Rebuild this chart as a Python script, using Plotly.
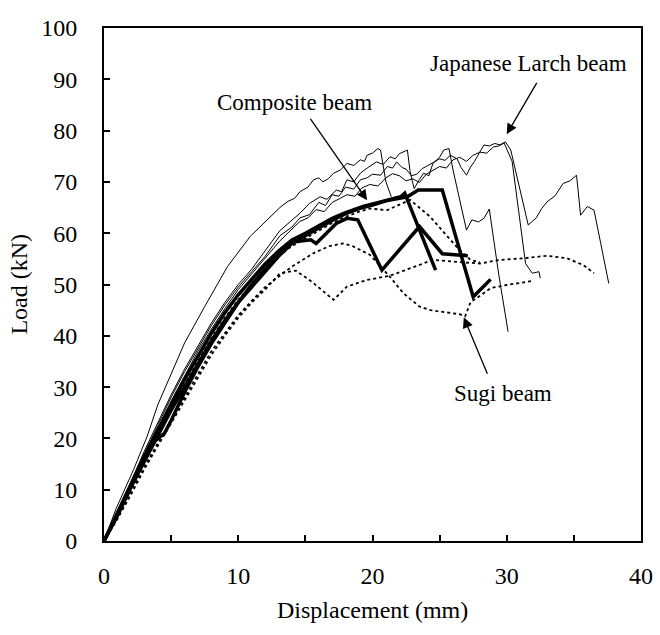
import plotly.graph_objects as go

# ---------------- data (Displacement mm, Load kN) ----------------
# Japanese Larch beams (thin solid)
ja_x = [0, 0.9, 2.2, 3.2, 4.0, 5.0, 6.0, 7.5, 9.2, 10.9, 12.4, 13.1, 13.7, 14.2, 14.6, 15.2, 15.6, 16.0, 16.3, 16.7, 17.1, 17.6, 18.1, 18.6, 19.1, 19.4, 19.6, 20.0, 20.4, 20.6, 21.0, 21.4]
ja_y = [0, 6.3, 13.9, 20.3, 26.5, 32.5, 38.6, 45.7, 53.5, 59.4, 63.3, 65.0, 66.2, 66.8, 68.1, 69.0, 70.4, 70.8, 70.0, 70.6, 71.7, 72.3, 73.6, 73.2, 74.3, 74.0, 75.2, 75.6, 76.5, 76.2, 70.0, 67.1]

jb_x = [0, 1, 2, 3, 4, 5, 6, 7, 8, 9, 10, 11, 12, 13.1, 14.6, 15.3, 16.1, 16.6, 17.3, 17.7, 18.1, 18.6, 19.1, 19.6, 20.3, 20.8, 21.3, 21.7, 22.0, 22.6, 22.8, 23.1, 23.5, 23.8, 24.2, 24.5, 25.0, 25.3, 25.7, 26.0, 27.0, 27.4, 27.9, 28.3, 28.7, 29.4, 30.1]
jb_y = [0, 5.5, 11.5, 17.5, 23.0, 28.5, 33.5, 38.0, 42.5, 46.5, 50.0, 53.0, 56.5, 60.5, 63.9, 65.8, 67.1, 66.6, 68.4, 68.1, 70.4, 70.0, 71.7, 72.7, 73.9, 73.4, 74.9, 74.5, 75.5, 76.2, 72.0, 68.7, 70.5, 71.7, 71.2, 73.6, 74.8, 76.2, 76.5, 72.3, 60.6, 62.6, 62.2, 62.9, 64.7, 52.0, 40.8]

jc_x = [0, 1, 2, 3, 4, 5, 6, 7, 8, 9, 10, 11, 12, 13.1, 14.0, 14.6, 15.3, 16.0, 16.5, 17.0, 17.5, 18.0, 18.6, 19.1, 19.6, 20.0, 20.6, 21.1, 21.5, 21.8, 22.2, 22.5, 22.9, 23.3, 23.7, 24.0, 24.5, 25.0, 25.4, 25.8, 26.3, 26.6, 27.0, 27.3, 27.6, 28.0, 28.3, 28.7, 29.1, 29.5, 29.9, 30.3, 31.6, 32.2, 32.6, 33.0, 33.6, 34.2, 34.7, 35.2, 35.5, 36.0, 36.5, 37.0, 37.5, 37.6]
jc_y = [0, 5.3, 11.0, 17.0, 22.5, 28.0, 33.0, 37.5, 42.0, 46.0, 49.5, 52.5, 55.5, 59.5, 61.2, 63.0, 63.6, 66.0, 65.4, 67.5, 67.2, 69.0, 68.6, 70.4, 70.8, 71.5, 71.3, 73.0, 72.7, 73.9, 72.8, 72.5, 71.2, 71.5, 72.6, 73.0, 73.8, 74.5, 74.2, 75.2, 74.5, 72.8, 71.3, 72.9, 74.0, 75.8, 77.2, 77.0, 77.5, 77.2, 77.8, 76.2, 61.6, 63.0, 64.8, 66.1, 67.3, 69.7, 70.2, 71.3, 63.5, 65.2, 64.5, 58.0, 51.5, 50.2]

jd_x = [0, 1, 2, 3, 4, 5, 6, 7, 8, 9, 10, 11, 12, 13.1, 14.0, 14.6, 15.2, 15.8, 16.4, 17.0, 17.6, 18.1, 18.7, 19.2, 19.8, 20.4, 21.0, 21.5, 22.0, 22.5, 23.0, 23.5, 24.0, 24.6, 25.0, 25.5, 26.0, 26.5, 27.0, 27.5, 28.0, 28.5, 29.0, 29.4, 29.8, 30.4, 31.4, 31.9, 32.4, 32.5]
jd_y = [0, 5.2, 10.8, 16.5, 22.0, 27.3, 32.3, 37.0, 41.3, 45.3, 49.0, 52.0, 55.0, 58.5, 60.8, 62.3, 63.0, 64.6, 64.2, 66.0, 66.8, 67.5, 67.2, 68.8, 69.5, 69.2, 70.8, 71.6, 71.2, 70.2, 70.6, 69.9, 71.5, 72.4, 73.0, 72.7, 74.3, 74.8, 74.0, 75.2, 75.8, 75.6, 76.8, 77.0, 77.6, 74.0, 54.1, 52.2, 52.5, 51.2]

# Composite beams (thick solid)
c1_x = [0, 1, 2, 3, 4, 5, 6, 7, 8, 9, 10, 11, 12, 13, 14, 15, 16, 17, 18, 19.3, 20.6, 22.1, 22.4, 24.7]
c1_y = [0, 5.5, 11.0, 16.5, 21.5, 26.5, 31.5, 36.0, 40.5, 44.5, 48.0, 51.0, 54.0, 56.5, 58.7, 60.0, 61.5, 62.9, 64.0, 65.2, 66.1, 67.1, 67.8, 52.8]

c2_x = [0, 1, 2, 3, 3.8, 4.5, 5, 6, 7, 8, 9, 10, 11, 12, 13, 14, 15, 16, 17, 18, 19, 20, 21, 22.6, 23.4, 25.2, 27.5, 28.8]
c2_y = [0, 5.0, 10.5, 16.0, 19.5, 21.0, 23.5, 29.0, 34.0, 38.5, 42.5, 46.5, 50.0, 53.0, 56.0, 58.3, 59.5, 61.0, 62.5, 63.8, 64.8, 65.5, 66.3, 67.1, 68.4, 68.4, 47.6, 51.0]

c3_x = [0, 1, 2, 3, 4, 5, 6, 7, 8, 9, 10, 11, 12, 13, 14.1, 15.4, 15.8, 16.8, 17.3, 18.1, 18.9, 20.7, 23.5, 25.2, 27.1]
c3_y = [0, 5.0, 10.5, 15.5, 20.5, 25.5, 30.0, 34.5, 39.0, 43.0, 46.5, 49.5, 52.5, 55.5, 58.3, 58.7, 58.0, 60.6, 61.9, 62.9, 62.6, 52.8, 61.3, 56.0, 55.6]

# Sugi beams (dotted)
s1_x = [0, 1, 2, 3, 4, 5, 6, 7, 8, 9, 10, 11, 12, 13, 14, 15.6, 16.8, 17.8, 18.5, 19.8, 21.3, 22.3, 23.5, 24.3, 26.5, 26.9, 27.3, 28.8, 30.0, 31.9]
s1_y = [0, 4.5, 9.5, 14.5, 19.0, 23.5, 28.0, 32.5, 37.0, 40.5, 44.0, 46.8, 49.5, 51.5, 53.5, 56.1, 57.5, 58.0, 57.5, 55.8, 51.5, 48.3, 45.7, 45.0, 44.2, 43.8, 46.5, 49.3, 49.9, 50.7]

s2_x = [0, 1, 2, 3, 4, 5, 6, 7, 8, 9, 10, 11, 12, 13.1, 14.3, 15.5, 17.1, 18.1, 19.6, 21.3, 22.8, 24.5, 26.3, 28.0, 29.5, 31.2, 33.0, 34.5, 35.7, 36.5]
s2_y = [0, 4.3, 9.0, 14.0, 18.5, 23.0, 27.5, 32.0, 36.3, 40.0, 43.5, 46.5, 49.0, 52.2, 52.7, 50.5, 47.0, 49.6, 50.9, 51.7, 53.2, 54.8, 54.4, 54.1, 54.8, 55.1, 55.6, 55.1, 53.8, 52.2]

s3_x = [0, 1, 2, 3, 4, 5, 6, 7, 8, 9, 10, 11, 12, 13, 14, 15, 16, 17, 18, 19, 19.8, 21.1, 22.8, 24.3, 25.8, 26.5, 27.3, 28.0]
s3_y = [0, 5.0, 10.5, 15.5, 20.5, 25.5, 30.5, 35.0, 39.5, 43.5, 47.0, 50.0, 53.0, 55.5, 57.5, 59.0, 60.5, 62.0, 63.2, 64.2, 64.8, 64.5, 66.5, 63.2, 58.7, 56.7, 54.8, 54.3]

x_ticks = [0, 10, 20, 30, 40]
y_ticks = [0, 10, 20, 30, 40, 50, 60, 70, 80, 90, 100]

FONT = "Liberation Serif"

fig = go.Figure()

def add(x, y, width, dash="solid"):
    fig.add_trace(go.Scatter(x=x, y=y, mode="lines",
                             line=dict(color="black", width=width, dash=dash),
                             showlegend=False, hoverinfo="skip"))

for xs, ys in [(ja_x, ja_y), (jb_x, jb_y), (jc_x, jc_y), (jd_x, jd_y)]:
    add(xs, ys, 1.0)
for xs, ys in [(s1_x, s1_y), (s2_x, s2_y), (s3_x, s3_y)]:
    add(xs, ys, 1.8, "dot")
for xs, ys in [(c1_x, c1_y), (c2_x, c2_y), (c3_x, c3_y)]:
    add(xs, ys, 3.5)

# labels
labels = [
    ("Japanese Larch beam", 31.6, 93.0),
    ("Composite beam", 14.2, 85.5),
    ("Sugi beam", 29.7, 28.8),
]
for txt, lx, ly in labels:
    fig.add_annotation(x=lx, y=ly, text=txt, showarrow=False,
                       font=dict(family=FONT, size=23, color="black"))

arrows = [
    # (tip_x, tip_y, tail_x, tail_y)
    (30.0, 79.3, 32.3, 89.6),
    (19.6, 66.4, 15.3, 82.6),
    (26.8, 43.6, 28.6, 32.3),
]
for tx, ty, sx, sy in arrows:
    fig.add_annotation(x=tx, y=ty, ax=sx, ay=sy, xref="x", yref="y",
                       axref="x", ayref="y", text="", showarrow=True,
                       arrowhead=2, arrowsize=1.6, arrowwidth=1.3,
                       arrowcolor="black")

# axis titles
fig.add_annotation(text="Displacement (mm)", xref="paper", yref="paper",
                   x=0.5, y=-0.135, xanchor="center", yanchor="middle",
                   showarrow=False, font=dict(family=FONT, size=24))
fig.add_annotation(text="Load (kN)", xref="paper", yref="paper",
                   x=-0.16, y=0.5, xanchor="center", yanchor="middle",
                   textangle=-90, showarrow=False, font=dict(family=FONT, size=24))

fig.update_layout(
    width=660, height=635,
    margin=dict(l=104, r=19, t=28, b=94),
    paper_bgcolor="white", plot_bgcolor="white",
    font=dict(family=FONT, size=24, color="black"),
    xaxis=dict(range=[0, 40], tickvals=x_ticks, ticks="inside", ticklen=6,
               tickwidth=1.5, tickcolor="black", automargin=False,
               minor=dict(ticks="inside", dtick=5, ticklen=6, tickwidth=1.5, tickcolor="black"),
               showline=True, linecolor="black", linewidth=2, mirror=True,
               showgrid=False, zeroline=False,
               tickfont=dict(family=FONT, size=24), ticklabelstandoff=12),
    yaxis=dict(range=[0, 100], tickvals=y_ticks, ticks="inside", ticklen=6,
               tickwidth=1.5, tickcolor="black", automargin=False,
               showline=True, linecolor="black", linewidth=2, mirror=True,
               showgrid=False, zeroline=False,
               tickfont=dict(family=FONT, size=24), ticklabelstandoff=20),
)

fig.write_html("out.html")
